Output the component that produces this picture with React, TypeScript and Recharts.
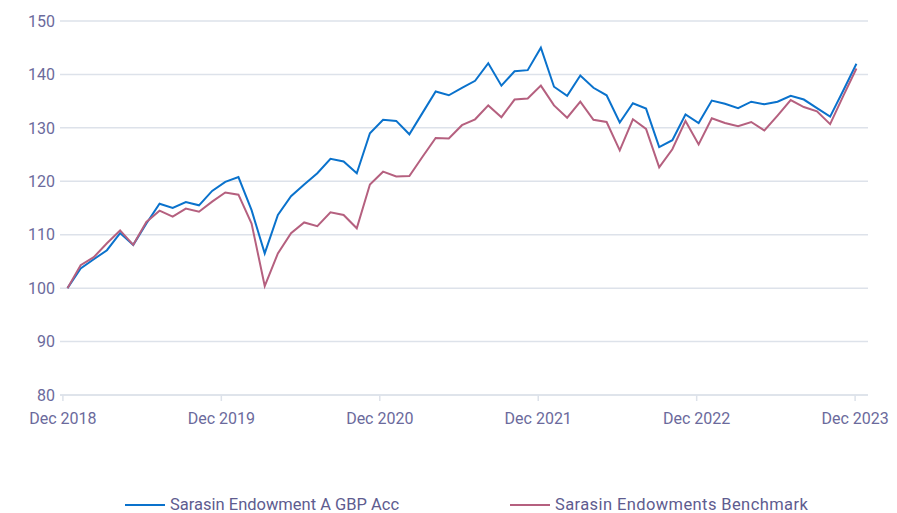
import React from "react";
import { LineChart, Line, XAxis, YAxis, CartesianGrid, Legend } from "recharts";

const months: number[] = Array.from({ length: 61 }, (_, i) => i);

const fundValues: number[] = [
  100, 103.7, 105.4, 107.1, 110.3, 108.1, 112.1, 115.8, 115.0, 116.1, 115.5, 118.2,
  119.9, 120.8, 114.6, 106.5, 113.7, 117.2, 119.4, 121.5, 124.2, 123.7, 121.5, 129.0,
  131.5, 131.3, 128.8, 132.8, 136.8, 136.1, 137.5, 138.8, 142.1, 137.9, 140.6, 140.8,
  145.0, 137.7, 136.0, 139.8, 137.5, 136.1, 131.0, 134.6, 133.6, 126.4, 127.7, 132.5,
  130.9, 135.1, 134.5, 133.7, 134.9, 134.4, 134.9, 136.0, 135.3, 133.7, 132.1, 137.0,
  142.0,
];

const benchmarkValues: number[] = [
  100, 104.3, 105.8, 108.4, 110.8, 108.1, 112.4, 114.5, 113.4, 114.9, 114.3, 116.2,
  117.9, 117.5, 112.1, 100.4, 106.5, 110.3, 112.3, 111.6, 114.2, 113.7, 111.2, 119.4,
  121.8, 120.9, 121.0, 124.6, 128.1, 128.0, 130.5, 131.6, 134.2, 132.0, 135.3, 135.5,
  137.9, 134.2, 131.9, 134.9, 131.5, 131.1, 125.8, 131.6, 129.8, 122.6, 126.0, 131.3,
  126.9, 131.8, 130.9, 130.3, 131.1, 129.5, 132.3, 135.2, 133.9, 133.1, 130.7, 136.0,
  141.1,
];

const xTickPositions: number[] = [-0.35, 11.7, 23.75, 35.8, 47.85, 59.9];
const xTickLabels: string[] = ["Dec 2018", "Dec 2019", "Dec 2020", "Dec 2021", "Dec 2022", "Dec 2023"];
const yTicks: number[] = [80, 90, 100, 110, 120, 130, 140, 150];

const seriesNames = ["Sarasin Endowment A GBP Acc", "Sarasin Endowments Benchmark"];
const seriesColors = ["#0a72cc", "#b5607f"];

const data = months.map((m, i) => ({
  m,
  fund: fundValues[i],
  bench: benchmarkValues[i],
}));

const FONT = "Roboto, 'Noto Sans', sans-serif";
const AXIS_COLOR = "#6b6a9c";

const LegendContent = () => (
  <div style={{ position: "relative", width: 897, height: 24, fontFamily: FONT }}>
    {seriesNames.map((name, i) => (
      <div
        key={name}
        style={{
          position: "absolute",
          left: i === 0 ? 125 : 510,
          top: 0,
          display: "flex",
          alignItems: "center",
          whiteSpace: "nowrap",
        }}
      >
        <div style={{ width: 40, height: 2, background: seriesColors[i], marginRight: 5 }} />
        <span style={{ fontSize: 16.5, color: "#5e5c8f", letterSpacing: i === 1 ? 0.4 : 0 }}>{name}</span>
      </div>
    ))}
  </div>
);

export default function App() {
  const tickFmt = (v: number) => {
    const idx = xTickPositions.indexOf(v);
    return idx >= 0 ? xTickLabels[idx] : "";
  };
  return (
    <div style={{ position: "absolute", left: 0, top: 0, width: 897, height: 513, background: "#fff" }}>
      <LineChart
        width={897}
        height={513}
        data={data}
        margin={{ top: 21, right: 29, bottom: 0, left: 0 }}
      >
        <CartesianGrid vertical={false} stroke="#dde2ea" strokeWidth={1.5} />
        <XAxis
          dataKey="m"
          type="number"
          domain={[-0.57, 60.88]}
          ticks={xTickPositions}
          tickFormatter={tickFmt}
          interval={0}
          allowDataOverflow
          height={94}
          axisLine={{ stroke: "#dde2ea", strokeWidth: 1.5 }}
          tickLine={{ stroke: "#dde2ea", strokeWidth: 1.5 }}
          tickSize={6}
          tickMargin={12}
          tick={{ fill: AXIS_COLOR, fontSize: 16, fontFamily: FONT }}
        />
        <YAxis
          domain={[80, 150]}
          ticks={yTicks}
          width={60}
          axisLine={false}
          tickLine={false}
          tickSize={0}
          tickMargin={5}
          tick={{ fill: AXIS_COLOR, fontSize: 16, fontFamily: FONT }}
        />
        <Legend
          verticalAlign="bottom"
          content={<LegendContent />}
          wrapperStyle={{ position: "absolute", left: 0, top: 495, width: 897 }}
        />
        <Line
          type="linear"
          dataKey="fund"
          name={seriesNames[0]}
          stroke={seriesColors[0]}
          strokeWidth={2}
          dot={false}
          isAnimationActive={false}
        />
        <Line
          type="linear"
          dataKey="bench"
          name={seriesNames[1]}
          stroke={seriesColors[1]}
          strokeWidth={2}
          dot={false}
          isAnimationActive={false}
        />
      </LineChart>
    </div>
  );
}
